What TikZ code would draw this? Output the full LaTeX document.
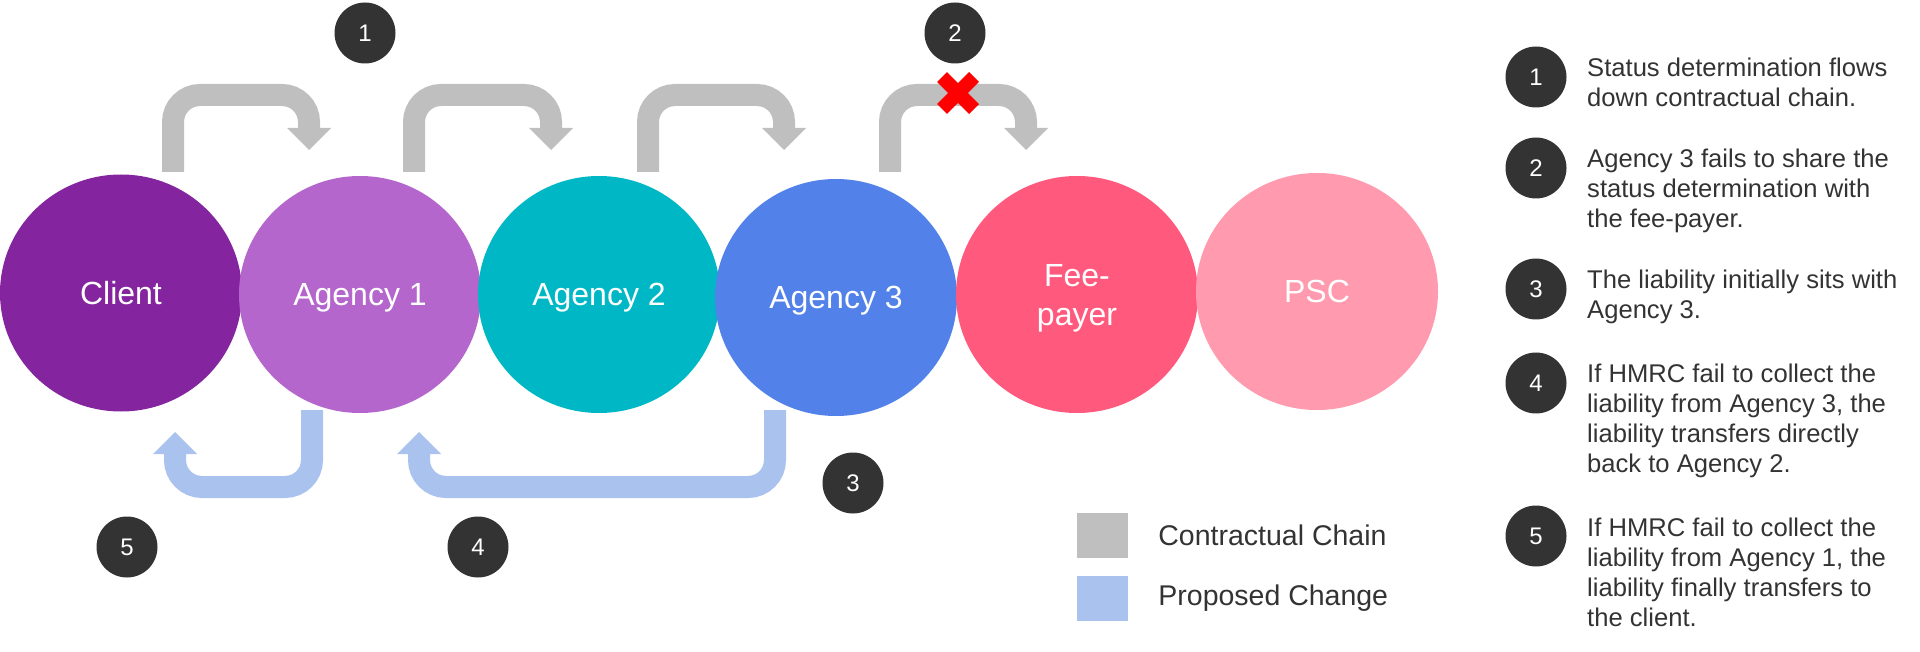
\documentclass[tikz,border=0pt]{standalone}
\usepackage{fontspec}
\setmainfont{Liberation Sans}
\usetikzlibrary{shapes.geometric,arrows.meta,positioning}
\definecolor{clientc}{HTML}{84259F}
\definecolor{agencya}{HTML}{B466CC}
\definecolor{agencyb}{HTML}{00B8C5}
\definecolor{agencyc}{HTML}{5282E9}
\definecolor{feec}{HTML}{FF5A7D}
\definecolor{pscc}{HTML}{FF9AAF}
\definecolor{chainc}{HTML}{BFBFBF}
\definecolor{changec}{HTML}{AAC2EE}
\definecolor{badgec}{HTML}{333333}
\definecolor{textc}{HTML}{333333}
\begin{document}
\begin{tikzpicture}[x=1pt,y=-1pt,
    party/.style={ellipse,minimum width=242pt,minimum height=237pt,inner sep=0pt,text depth=0pt,text=white,align=center,font=\fontsize{32}{39}\selectfont},
    badge/.style={circle,fill=badgec,minimum size=61pt,inner sep=0pt,text=white,font=\fontsize{24}{24}\selectfont},
    chain/.style={draw=chainc,line width=22pt,rounded corners=27pt,-{Triangle[width=44pt,length=22pt,line width=0pt]}},
    change/.style={chain,draw=changec},
    keybox/.style={minimum width=51pt,minimum height=45pt,inner sep=0pt},
    keytext/.style={right=30pt of #1,inner sep=0pt,text=textc,font=\fontsize{28.5}{34}\selectfont},
    note/.style={anchor=north west,inner sep=0pt,align=left,text=textc,font=\fontsize{25.6}{30}\selectfont}]
  \useasboundingbox (0,0) rectangle (1920,652);
  \node[party,fill=clientc] (client) at (121,293) {Client};
  \node[party,fill=agencya] (agency1) at (360,294.5) {Agency 1};
  \node[party,fill=agencyb] (agency2) at (599,294.5) {Agency 2};
  \node[party,fill=agencyc] (agency3) at (836,297.5) {Agency 3};
  \node[party,fill=feec] (feepayer) at (1077,294.5) {Fee-\\payer};
  \node[party,fill=pscc] (psc) at (1317,291.5) {PSC};
  \foreach \s/\e [count=\i] in {173/309,414/551,648/784,890/1026}{
    \coordinate (top\i s) at (\s,172);
    \coordinate (top\i e) at (\e,150);
    \draw[chain] (top\i s) -- ++(0,-77) -| (top\i e);
  }
  \foreach \s/\e [count=\i] in {312/175,775/419}{
    \coordinate (low\i s) at (\s,410);
    \coordinate (low\i e) at (\e,432);
    \draw[change] (low\i s) -- ++(0,77) -| (low\i e);
  }
  \coordinate (cross) at (958,93);
  \draw[red,line width=14pt] (cross) +(-16,-16) -- +(16,16) +(-16,16) -- +(16,-16);
  \node[badge] (b1) at (365,33) {1};
  \node[badge] (b2) at (955,33) {2};
  \node[badge] (b3) at (853,483) {3};
  \node[badge] (b4) at (478,547) {4};
  \node[badge] (b5) at (127,547) {5};
  \node[keybox,fill=chainc] (keychain) at (1102.5,535.5) {};
  \node[keybox,fill=changec] (keychange) at (1102.5,598) {};
  \node[keytext=keychain] (keychaintext) {Contractual Chain};
  \node[keytext=keychange] (keychangetext) {Proposed Change};
  \node[badge] (n1) at (1536,77) {1};
  \node[badge] (n2) at (1536,168) {2};
  \node[badge] (n3) at (1536,289) {3};
  \node[badge] (n4) at (1536,383) {4};
  \node[badge] (n5) at (1536,536) {5};
  \node[note] (t1) at (1587,58) {Status determination flows\\down contractual chain.};
  \node[note] (t2) at (1587,149) {Agency 3 fails to share the\\status determination with\\the fee-payer.};
  \node[note] (t3) at (1587,270) {The liability initially sits with\\Agency 3.};
  \node[note] (t4) at (1587,364) {If HMRC fail to collect the\\liability from Agency 3, the\\liability transfers directly\\back to Agency 2.};
  \node[note] (t5) at (1587,518) {If HMRC fail to collect the\\liability from Agency 1, the\\liability finally transfers to\\the client.};
\end{tikzpicture}
\end{document}
